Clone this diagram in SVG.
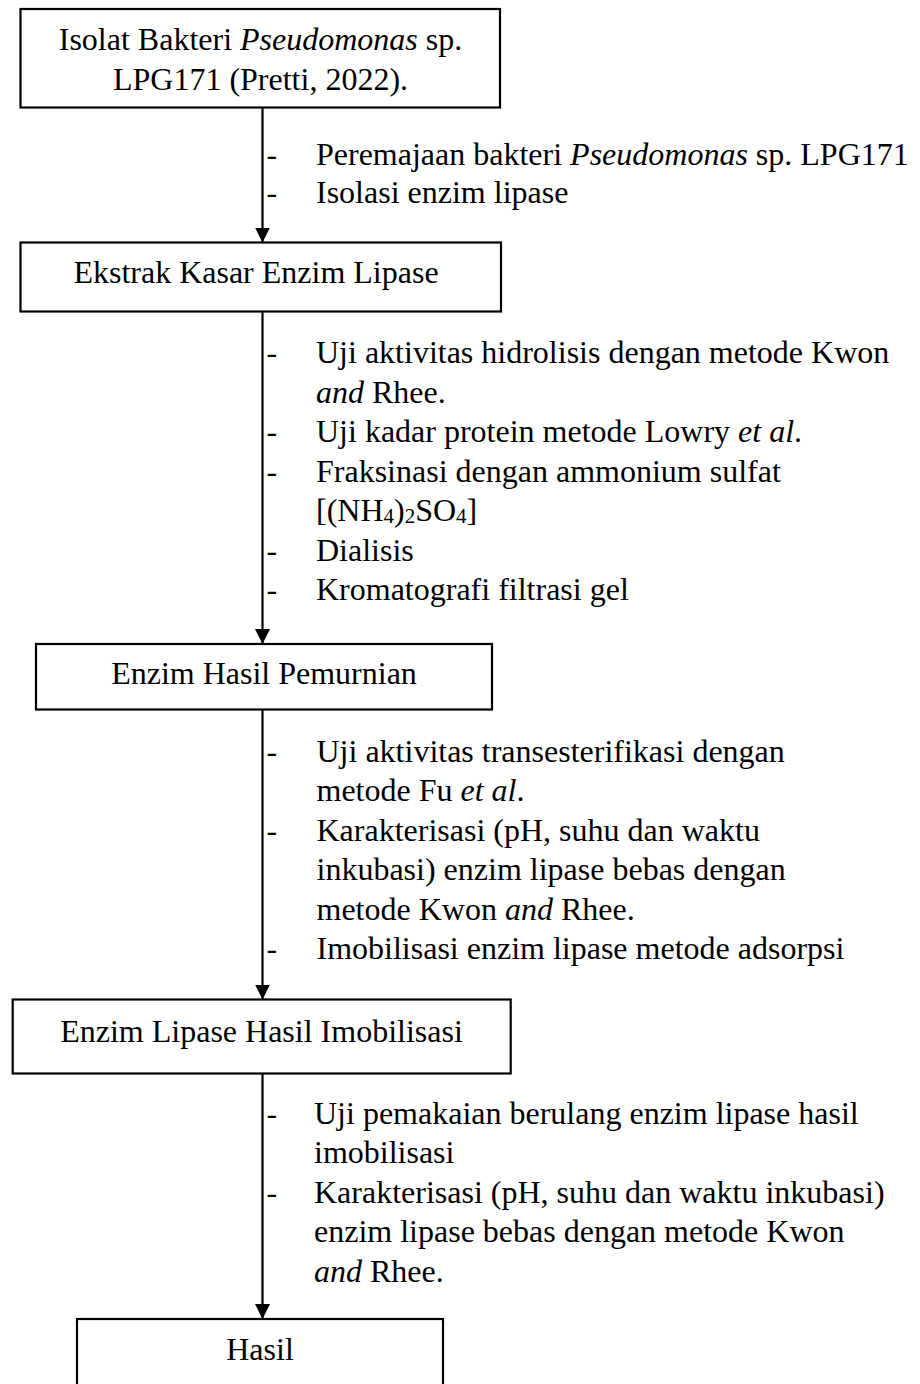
<svg xmlns="http://www.w3.org/2000/svg" width="920" height="1384" viewBox="0 0 920 1384">
<style>
.box{fill:#fff;stroke:#000;stroke-width:2.2}
.t{font-family:"Liberation Serif","Times New Roman",serif;font-size:32px;fill:#000}
.c{text-anchor:middle}
.i{font-style:italic}
.sub{font-size:21px}
.conn{stroke:#000;stroke-width:2.2;fill:none}
</style>
<defs>
<marker id="ah" markerUnits="userSpaceOnUse" viewBox="0 0 15 15" refX="15" refY="7.5" markerWidth="15" markerHeight="15" orient="auto">
<path d="M0,0 L15,7.5 L0,15 z" fill="#000"/>
</marker>
</defs>
<rect width="920" height="1384" fill="#fff"/>

<g id="connectors">
<line class="conn" x1="262.5" y1="107" x2="262.5" y2="242.5" marker-end="url(#ah)"/>
<line class="conn" x1="262.5" y1="311.5" x2="262.5" y2="644" marker-end="url(#ah)"/>
<line class="conn" x1="262.5" y1="709.5" x2="262.5" y2="999.5" marker-end="url(#ah)"/>
<line class="conn" x1="262.5" y1="1073.5" x2="262.5" y2="1319" marker-end="url(#ah)"/>
</g>

<g id="n1">
<rect class="box" x="20.5" y="9" width="479.5" height="98.5"/>
<text class="t c" x="260.5" y="50">Isolat Bakteri <tspan class="i">Pseudomonas</tspan> sp.</text>
<text class="t c" x="260.5" y="90">LPG171 (Pretti, 2022).</text>
</g>

<g id="n2">
<rect class="box" x="20.5" y="242.5" width="480.5" height="69"/>
<text class="t c" x="256" y="283">Ekstrak Kasar Enzim Lipase</text>
</g>

<g id="n3">
<rect class="box" x="36" y="644" width="456" height="65.5"/>
<text class="t c" x="264" y="684">Enzim Hasil Pemurnian</text>
</g>

<g id="n4">
<rect class="box" x="12.7" y="999.5" width="498" height="74"/>
<text class="t c" x="261.5" y="1041.5">Enzim Lipase Hasil Imobilisasi</text>
</g>

<g id="n5">
<rect class="box" x="77" y="1319" width="366" height="90"/>
<text class="t c" x="260" y="1360">Hasil</text>
</g>

<g id="labels">
<g id="l1">
<text class="t" x="266.5" y="165">-</text>
<text class="t" x="316" y="165">Peremajaan bakteri <tspan class="i">Pseudomonas</tspan> sp. LPG171</text>
<text class="t" x="266.5" y="203">-</text>
<text class="t" x="316" y="203">Isolasi enzim lipase</text>
</g>
<g id="l2">
<text class="t" x="266.5" y="363">-</text>
<text class="t" x="316" y="363">Uji aktivitas hidrolisis dengan metode Kwon</text>
<text class="t" x="316" y="402.5"><tspan class="i">and</tspan> Rhee.</text>
<text class="t" x="266.5" y="442">-</text>
<text class="t" x="316" y="442">Uji kadar protein metode Lowry <tspan class="i">et al</tspan>.</text>
<text class="t" x="266.5" y="481.5">-</text>
<text class="t" x="316" y="481.5">Fraksinasi dengan ammonium sulfat</text>
<text class="t" x="316" y="521">[(NH<tspan class="sub" dy="2">4</tspan><tspan dy="-2">)</tspan><tspan class="sub" dy="2">2</tspan><tspan dy="-2">SO</tspan><tspan class="sub" dy="2">4</tspan><tspan dy="-2">]</tspan></text>
<text class="t" x="266.5" y="560.5">-</text>
<text class="t" x="316" y="560.5">Dialisis</text>
<text class="t" x="266.5" y="600">-</text>
<text class="t" x="316" y="600">Kromatografi filtrasi gel</text>
</g>
<g id="l3">
<text class="t" x="266.5" y="762">-</text>
<text class="t" x="316.5" y="762">Uji aktivitas transesterifikasi dengan</text>
<text class="t" x="316.5" y="801.4">metode Fu <tspan class="i">et al</tspan>.</text>
<text class="t" x="266.5" y="840.8">-</text>
<text class="t" x="316.5" y="840.8">Karakterisasi (pH, suhu dan waktu</text>
<text class="t" x="316.5" y="880.2">inkubasi) enzim lipase bebas dengan</text>
<text class="t" x="316.5" y="919.6">metode Kwon <tspan class="i">and</tspan> Rhee.</text>
<text class="t" x="266.5" y="959">-</text>
<text class="t" x="316.5" y="959">Imobilisasi enzim lipase metode adsorpsi</text>
</g>
<g id="l4">
<text class="t" x="266.5" y="1124">-</text>
<text class="t" x="314" y="1124">Uji pemakaian berulang enzim lipase hasil</text>
<text class="t" x="314" y="1163.4">imobilisasi</text>
<text class="t" x="266.5" y="1202.8">-</text>
<text class="t" x="314" y="1202.8">Karakterisasi (pH, suhu dan waktu inkubasi)</text>
<text class="t" x="314" y="1242.2">enzim lipase bebas dengan metode Kwon</text>
<text class="t" x="314" y="1281.6"><tspan class="i">and</tspan> Rhee.</text>
</g>
</g>
</svg>
